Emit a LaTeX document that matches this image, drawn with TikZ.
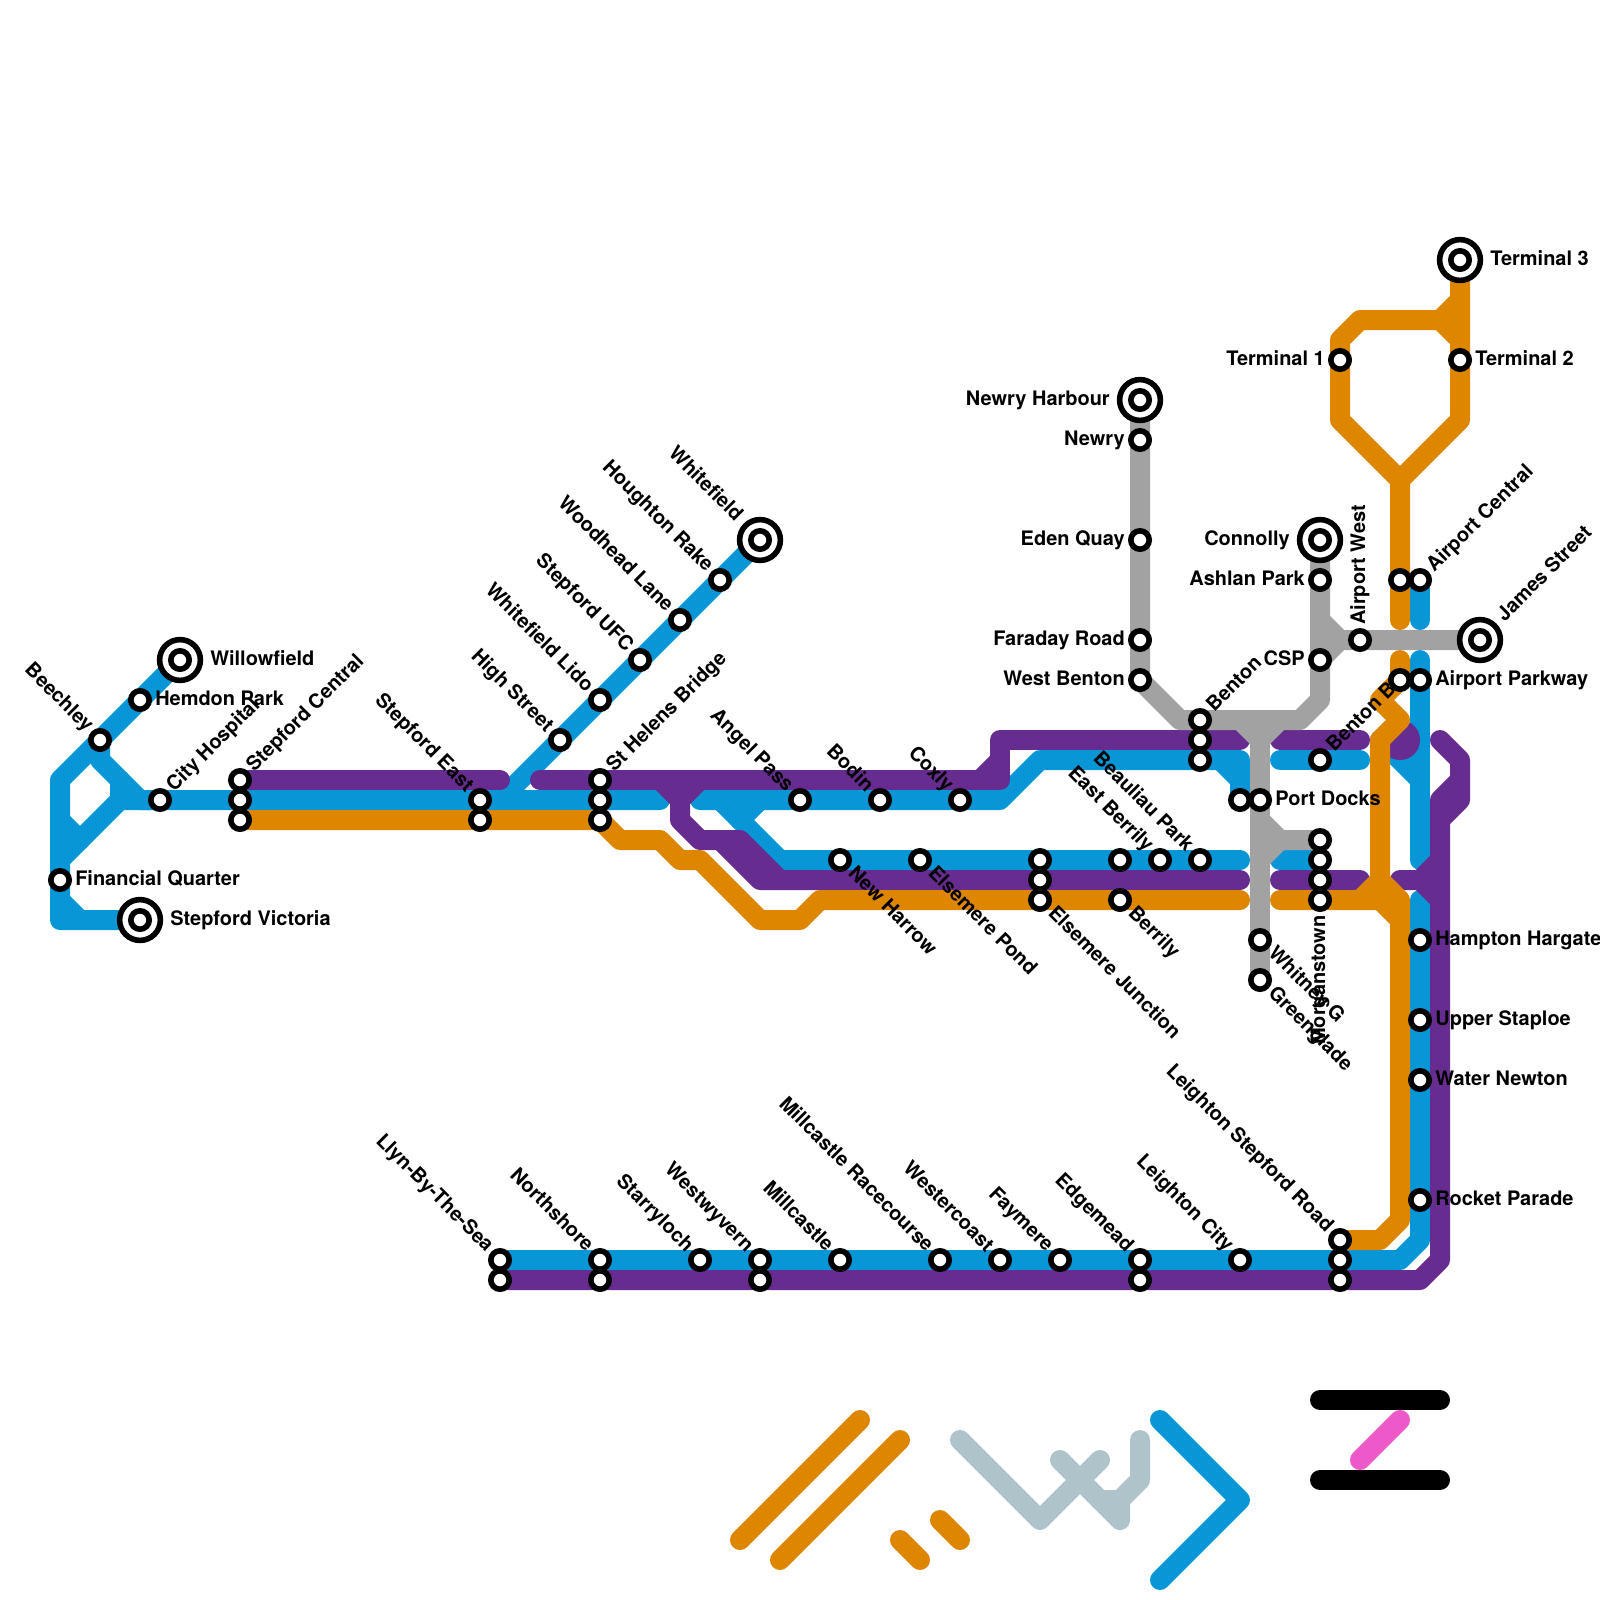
\documentclass[tikz,border=0pt]{standalone}
\usepackage{fontspec}
\setmainfont{TeX Gyre Heros}
\usetikzlibrary{backgrounds}
\definecolor{lineblue}{HTML}{0896D7}
\definecolor{linepurple}{HTML}{662C90}
\definecolor{lineorange}{HTML}{DF8600}
\definecolor{linegrey}{HTML}{A2A2A2}
\definecolor{lineslate}{HTML}{AEC4CA}
\definecolor{linepink}{HTML}{ED59C8}
\begin{document}
\begin{tikzpicture}[
    x=0.5cm,
    y=-0.5cm,
    track/.style={
        line width=0.5cm,
        line cap=round,
        line join=round
    },
    bluetrack/.style={track, lineblue},
    purpletrack/.style={track, linepurple},
    orangetrack/.style={track, lineorange},
    greytrack/.style={track, linegrey},
    slatetrack/.style={track, lineslate},
    stn/.style={
        draw,
        circle,
        line width=0.14cm,
        minimum size=0.46cm,
        inner sep=0pt,
        fill=white
    },
    termring/.style={
        draw,
        circle,
        line width=0.14cm,
        minimum size=1.02cm,
        inner sep=0pt,
        fill=white
    },
    stntext/.style={
        font=\fontsize{14.2}{16}\selectfont\bfseries,
        inner sep=0pt
    },
    lblright/.style={stntext, anchor=base west, xshift=0.375cm, yshift=-0.125cm},
    lblleft/.style={stntext, anchor=base east, xshift=-0.375cm, yshift=-0.125cm},
    lblne/.style={rotate=45, lblright},
    lblse/.style={rotate=-45, lblright},
    lblnw/.style={rotate=-45, lblleft},
    lblup/.style={rotate=90, lblright},
    lbldown/.style={rotate=90, lblleft},
    farout/.style={xshift=0.375cm},
    farback/.style={xshift=-0.375cm}
]
    \useasboundingbox (0,0) rectangle (80,80);

    % west end
    \node[termring] (willowfieldring) at (9,33) {};
    \node[stn] (willowfield) at (9,33) {};
    \node[lblright, farout] (willowfieldtxt) at (willowfield) {Willowfield};
    \node[stn] (hemdonpark) at (7,35) {};
    \node[lblright] (hemdonparktxt) at (hemdonpark) {Hemdon Park};
    \node[stn] (beechley) at (5,37) {};
    \node[lblnw] (beechleytxt) at (beechley) {Beechley};
    \node[stn] (cityhospital) at (8,40) {};
    \node[lblne] (cityhospitaltxt) at (cityhospital) {City Hospital};
    \node[stn] (financialquarter) at (3,44) {};
    \node[lblright] (financialquartertxt) at (financialquarter) {Financial Quarter};
    \node[termring] (stepfordvictoriaring) at (7,46) {};
    \node[stn] (stepfordvictoria) at (7,46) {};
    \node[lblright, farout] (stepfordvictoriatxt) at (stepfordvictoria) {Stepford Victoria};

    % upper main line
    \node[stn] (stepfordcentrala) at (12,39) {};
    \node[stn] (stepfordcentralb) at (12,40) {};
    \node[stn] (stepfordcentralc) at (12,41) {};
    \node[lblne] (stepfordcentraltxt) at (stepfordcentrala) {Stepford Central};
    \node[stn] (stepfordeasta) at (24,40) {};
    \node[stn] (stepfordeastb) at (24,41) {};
    \node[lblnw] (stepfordeasttxt) at (stepfordeasta) {Stepford East};
    \node[stn] (sthelensa) at (30,39) {};
    \node[stn] (sthelensb) at (30,40) {};
    \node[stn] (sthelensc) at (30,41) {};
    \node[lblne] (sthelenstxt) at (sthelensa) {St Helens Bridge};
    \node[stn] (angelpass) at (40,40) {};
    \node[lblnw] (angelpasstxt) at (angelpass) {Angel Pass};
    \node[stn] (bodin) at (44,40) {};
    \node[lblnw] (bodintxt) at (bodin) {Bodin};
    \node[stn] (coxly) at (48,40) {};
    \node[lblnw] (coxlytxt) at (coxly) {Coxly};

    % whitefield branch
    \node[stn] (highstreet) at (28,37) {};
    \node[lblnw] (highstreettxt) at (highstreet) {High Street};
    \node[stn] (whitefieldlido) at (30,35) {};
    \node[lblnw] (whitefieldlidotxt) at (whitefieldlido) {Whitefield Lido};
    \node[stn] (stepfordufc) at (32,33) {};
    \node[lblnw] (stepfordufctxt) at (stepfordufc) {Stepford UFC};
    \node[stn] (woodheadlane) at (34,31) {};
    \node[lblnw] (woodheadlanetxt) at (woodheadlane) {Woodhead Lane};
    \node[stn] (houghtonrake) at (36,29) {};
    \node[lblnw] (houghtonraketxt) at (houghtonrake) {Houghton Rake};
    \node[termring] (whitefieldring) at (38,27) {};
    \node[stn] (whitefield) at (38,27) {};
    \node[lblnw, farback] (whitefieldtxt) at (whitefield) {Whitefield};

    % lower main line
    \node[stn] (newharrow) at (42,43) {};
    \node[lblse] (newharrowtxt) at (newharrow) {New Harrow};
    \node[stn] (elsemerepond) at (46,43) {};
    \node[lblse] (elsemerepondtxt) at (elsemerepond) {Elsemere Pond};
    \node[stn] (elsemerea) at (52,43) {};
    \node[stn] (elsemereb) at (52,44) {};
    \node[stn] (elsemerec) at (52,45) {};
    \node[lblse] (elsemeretxt) at (elsemerec) {Elsemere Junction};
    \node[stn] (berrilya) at (56,43) {};
    \node[stn] (berrilyb) at (56,45) {};
    \node[lblse] (berrilytxt) at (berrilyb) {Berrily};
    \node[stn] (eastberrily) at (58,43) {};
    \node[lblnw] (eastberrilytxt) at (eastberrily) {East Berrily};
    \node[stn] (beauliaupark) at (60,43) {};
    \node[lblnw] (beauliauparktxt) at (beauliaupark) {Beauliau Park};
    \node[stn] (bentona) at (60,36) {};
    \node[stn] (bentonb) at (60,37) {};
    \node[stn] (bentonc) at (60,38) {};
    \node[lblne] (bentontxt) at (bentona) {Benton};

    % grey line north
    \node[termring] (newryharbourring) at (57,20) {};
    \node[stn] (newryharbour) at (57,20) {};
    \node[lblleft, farback] (newryharbourtxt) at (newryharbour) {Newry Harbour};
    \node[stn] (newry) at (57,22) {};
    \node[lblleft] (newrytxt) at (newry) {Newry};
    \node[stn] (edenquay) at (57,27) {};
    \node[lblleft] (edenquaytxt) at (edenquay) {Eden Quay};
    \node[stn] (faradayroad) at (57,32) {};
    \node[lblleft] (faradayroadtxt) at (faradayroad) {Faraday Road};
    \node[stn] (westbenton) at (57,34) {};
    \node[lblleft] (westbentontxt) at (westbenton) {West Benton};

    % interchange
    \node[stn] (portdocksa) at (62,40) {};
    \node[stn] (portdocksb) at (63,40) {};
    \node[lblright] (portdockstxt) at (portdocksb) {Port Docks};
    \node[stn] (whitneyg) at (63,47) {};
    \node[lblse] (whitneygtxt) at (whitneyg) {Whitney G};
    \node[stn] (greenglade) at (63,49) {};
    \node[lblse] (greengladetxt) at (greenglade) {Greenglade};
    \node[stn] (morganstowna) at (66,42) {};
    \node[stn] (morganstownb) at (66,43) {};
    \node[stn] (morganstownc) at (66,44) {};
    \node[stn] (morganstownd) at (66,45) {};
    \node[lbldown] (morganstowntxt) at (morganstownd) {Morganstown};
    \node[stn] (bentonbb) at (66,38) {};
    \node[lblne] (bentonbbtxt) at (bentonbb) {Benton B};
    \node[termring] (connollyring) at (66,27) {};
    \node[stn] (connolly) at (66,27) {};
    \node[lblleft, farback] (connollytxt) at (connolly) {Connolly};
    \node[stn] (ashlanpark) at (66,29) {};
    \node[lblleft] (ashlanparktxt) at (ashlanpark) {Ashlan Park};
    \node[stn] (csp) at (66,33) {};
    \node[lblleft] (csptxt) at (csp) {CSP};
    \node[stn] (airportwest) at (68,32) {};
    \node[lblup] (airportwesttxt) at (airportwest) {Airport West};
    \node[termring] (jamesstreetring) at (74,32) {};
    \node[stn] (jamesstreet) at (74,32) {};
    \node[lblne, farout] (jamesstreettxt) at (jamesstreet) {James Street};

    % airport
    \node[stn] (airportcentrala) at (70,29) {};
    \node[stn] (airportcentralb) at (71,29) {};
    \node[lblne] (airportcentraltxt) at (airportcentralb) {Airport Central};
    \node[stn] (airportparkwaya) at (70,34) {};
    \node[stn] (airportparkwayb) at (71,34) {};
    \node[lblright] (airportparkwaytxt) at (airportparkwayb) {Airport Parkway};
    \node[stn] (terminalone) at (67,18) {};
    \node[lblleft] (terminalonetxt) at (terminalone) {Terminal 1};
    \node[stn] (terminaltwo) at (73,18) {};
    \node[lblright] (terminaltwotxt) at (terminaltwo) {Terminal 2};
    \node[termring] (terminalthreering) at (73,13) {};
    \node[stn] (terminalthree) at (73,13) {};
    \node[lblright, farout] (terminalthreetxt) at (terminalthree) {Terminal 3};

    % east side
    \node[stn] (hamptonhargate) at (71,47) {};
    \node[lblright] (hamptonhargatetxt) at (hamptonhargate) {Hampton Hargate};
    \node[stn] (upperstaploe) at (71,51) {};
    \node[lblright] (upperstaploetxt) at (upperstaploe) {Upper Staploe};
    \node[stn] (waternewton) at (71,54) {};
    \node[lblright] (waternewtontxt) at (waternewton) {Water Newton};
    \node[stn] (rocketparade) at (71,60) {};
    \node[lblright] (rocketparadetxt) at (rocketparade) {Rocket Parade};

    % south row
    \node[stn] (llyna) at (25,63) {};
    \node[stn] (llynb) at (25,64) {};
    \node[lblnw] (llyntxt) at (llyna) {Llyn-By-The-Sea};
    \node[stn] (northshorea) at (30,63) {};
    \node[stn] (northshoreb) at (30,64) {};
    \node[lblnw] (northshoretxt) at (northshorea) {Northshore};
    \node[stn] (starryloch) at (35,63) {};
    \node[lblnw] (starrylochtxt) at (starryloch) {Starryloch};
    \node[stn] (westwyverna) at (38,63) {};
    \node[stn] (westwyvernb) at (38,64) {};
    \node[lblnw] (westwyverntxt) at (westwyverna) {Westwyvern};
    \node[stn] (millcastle) at (42,63) {};
    \node[lblnw] (millcastletxt) at (millcastle) {Millcastle};
    \node[stn] (racecourse) at (47,63) {};
    \node[lblnw] (racecoursetxt) at (racecourse) {Millcastle Racecourse};
    \node[stn] (westercoast) at (50,63) {};
    \node[lblnw] (westercoasttxt) at (westercoast) {Westercoast};
    \node[stn] (faymere) at (53,63) {};
    \node[lblnw] (faymeretxt) at (faymere) {Faymere};
    \node[stn] (edgemeada) at (57,63) {};
    \node[stn] (edgemeadb) at (57,64) {};
    \node[lblnw] (edgemeadtxt) at (edgemeada) {Edgemead};
    \node[stn] (leightoncity) at (62,63) {};
    \node[lblnw] (leightoncitytxt) at (leightoncity) {Leighton City};
    \node[stn] (leightonroada) at (67,62) {};
    \node[stn] (leightonroadb) at (67,63) {};
    \node[stn] (leightonroadc) at (67,64) {};
    \node[lblnw] (leightonroadtxt) at (leightonroada) {Leighton Stepford Road};

    \begin{pgfonlayer}{background}
        % blue
        \draw[bluetrack] (willowfield.center) -- (3,39) -- (3,46) -- (stepfordvictoria.center);
        \draw[bluetrack] (beechley.center) -- (5,38) -- (7,40) -- (cityhospital.center);
        \draw[bluetrack] (3,43) -- (6,40) -- (cityhospital.center) -- (stepfordcentralb.center) -- (33,40);
        \draw[bluetrack] (6,39) -- (6,40);
        \draw[bluetrack] (3,41) -- (4,42);
        \draw[bluetrack] (3,45) -- (4,46);
        \draw[bluetrack] (whitefield.center) -- (25,40);
        \draw[bluetrack] (35,40) -- (50,40) -- (52,38) -- (62,38) -- (portdocksa.center);
        \draw[bluetrack] (61,38) -- (62,39);
        \draw[bluetrack] (36,40) -- (39,43) -- (62,43);
        \draw[bluetrack] (38,40) -- (37,41);
        \draw[bluetrack] (64,43) -- (morganstownb.center);
        \draw[bluetrack] (64,38) -- (68,38);
        \draw[bluetrack] (airportcentralb.center) -- (71,31);
        \draw[bluetrack] (71,33) -- (71,43);
        \draw[bluetrack] (69,37) -- (71,39);
        \draw[bluetrack] (71,45) -- (71,62) -- (70,63) -- (llyna.center);

        % purple
        \draw[purpletrack] (stepfordcentrala.center) -- (25,39);
        \draw[purpletrack] (27,39) -- (50,39) -- (50,37) -- (62,37);
        \draw[purpletrack] (49,39) -- (50,38);
        \draw[purpletrack] (33,39) -- (34,40) -- (34,41) -- (35,42) -- (37,42) -- (39,44) -- (62,44);
        \draw[purpletrack] (35,39) -- (34,40);
        \draw[purpletrack] (36,42) -- (38,44) -- (39,44);
        \draw[purpletrack] (64,37) -- (68,37);
        \draw[purpletrack] (64,44) -- (68,44);
        \fill[linepurple] (70,37) circle (0.5cm);
        \draw[purpletrack] (72,37) -- (73,38) -- (73,40) -- (72,41) -- (72,63) -- (71,64) -- (llynb.center);
        \draw[purpletrack] (73,39) -- (72,40) -- (72,41);
        \draw[purpletrack] (70,44) -- (71,44) -- (72,45);
        \draw[purpletrack] (71,44) -- (72,43);

        % orange
        \draw[orangetrack] (stepfordcentralc.center) -- (30,41) -- (31,42) -- (33,42) -- (34,43) -- (35,43) -- (38,46) -- (40,46) -- (41,45) -- (62,45);
        \draw[orangetrack] (64,45) -- (69,45) -- (70,46) -- (70,61) -- (69,62) -- (leightonroada.center);
        \draw[orangetrack] (68,45) -- (69,44) -- (70,45) -- (70,46);
        \draw[orangetrack] (70,33) -- (70,34) -- (69,35) -- (70,36) -- (69,37) -- (69,44);
        \draw[orangetrack] (70,31) -- (70,24) -- (67,21) -- (67,17) -- (68,16) -- (72,16) -- (73,17);
        \draw[orangetrack] (70,24) -- (73,21) -- (terminalthree.center);
        \draw[orangetrack] (72,16) -- (73,15);

        % grey
        \draw[greytrack] (newryharbour.center) -- (westbenton.center) -- (59,36) -- (65,36) -- (66,35) -- (connolly.center);
        \draw[greytrack] (62,36) -- (63,37);
        \draw[greytrack] (64,36) -- (63,37);
        \draw[greytrack] (63,36) -- (greenglade.center);
        \draw[greytrack] (63,41) -- (64,42) -- (morganstowna.center);
        \draw[greytrack] (63,43) -- (64,42);
        \draw[greytrack] (66,31) -- (67,32) -- (jamesstreet.center);
        \draw[greytrack] (66,33) -- (67,32);
    \end{pgfonlayer}

    % marks along the bottom
    \draw[orangetrack] (37,77) -- (43,71);
    \draw[orangetrack] (39,78) -- (45,72);
    \draw[orangetrack] (45,77) -- (46,78);
    \draw[orangetrack] (47,76) -- (48,77);
    \draw[slatetrack] (48,72) -- (52,76) -- (55,73);
    \draw[slatetrack] (53,73) -- (56,76) -- (56,75) -- (57,74) -- (57,72);
    \draw[slatetrack] (55,75) -- (56,75);
    \draw[bluetrack] (58,71) -- (62,75) -- (58,79);
    \draw[track, black] (66,70) -- (72,70);
    \draw[track, black] (66,74) -- (72,74);
    \draw[track, linepink] (68,73) -- (70,71);
\end{tikzpicture}
\end{document}
